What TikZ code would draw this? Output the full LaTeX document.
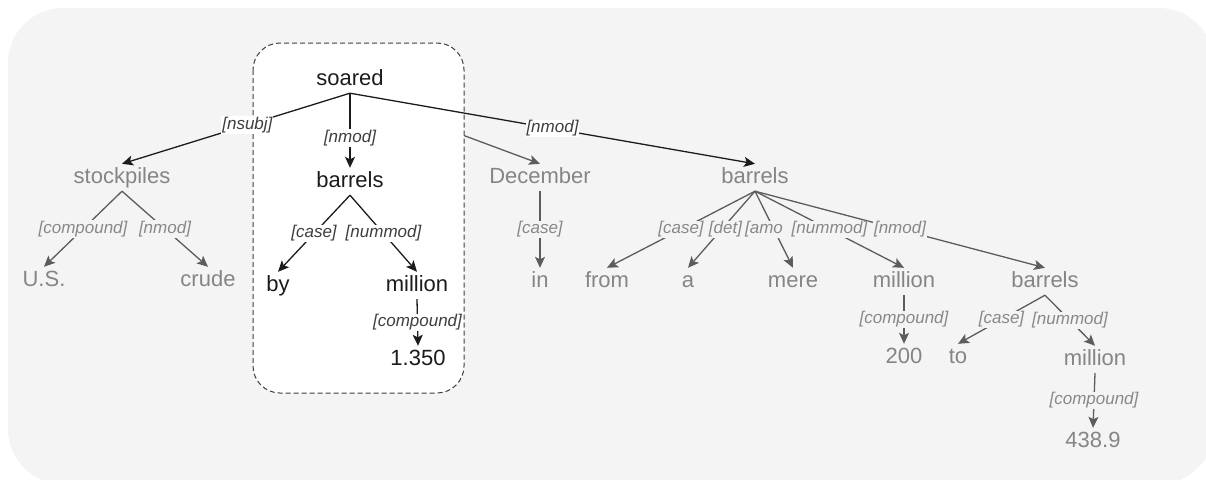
\documentclass[tikz,border=0pt]{standalone}
\usepackage{fontspec}
\setmainfont{Liberation Sans}
\usetikzlibrary{arrows.meta}
\definecolor{panelbg}{HTML}{F4F4F4}
\definecolor{wordgray}{HTML}{858585}
\definecolor{edgegray}{HTML}{5C5C5C}
\definecolor{labgray}{HTML}{888888}
\definecolor{ink}{HTML}{1C1C1C}
\pgfdeclarelayer{panel}
\pgfdeclarelayer{frame}
\pgfsetlayers{panel,frame,main}

\begin{document}
\begin{tikzpicture}[x=1pt, y=-1pt,
    word/.style={anchor=base, inner sep=3pt, text height=16pt, text depth=5pt, font=\fontsize{22}{26}\selectfont},
    headword/.style={word, text=ink},
    depword/.style={word, text=wordgray},
    arc/.style={-{Stealth[length=11pt, width=10pt, inset=2.5pt]}, line width=1.3pt, draw=ink},
    grayarc/.style={arc, draw=edgegray},
    rel/.style={midway, fill=white, inner sep=1pt, text=ink!85, font=\fontsize{17}{19}\selectfont\itshape},
    grayrel/.style={rel, fill=panelbg, text=labgray}]

    \useasboundingbox (0,0) rectangle (1206,479);
    \clip (0,0) rectangle (1206,479);

    \node (soared) [headword] at (350, 85) {soared};
    \node (stockpiles) [depword] at (122, 183) {stockpiles};
    \node (barrelsby) [headword] at (350, 187) {barrels};
    \node (december) [depword] at (540, 183) {December};
    \node (barrels) [depword] at (755, 183) {barrels};
    \node (us) [depword] at (44, 286) {U.S.};
    \node (crude) [depword] at (208, 286) {crude};
    \node (by) [headword] at (278, 291) {by};
    \node (millionby) [headword] at (417, 291) {million};
    \node (onethree) [headword] at (418, 365) {1.350};
    \node (in) [depword] at (540, 287) {in};
    \node (from) [depword] at (607, 287) {from};
    \node (a) [depword] at (688, 287) {a};
    \node (mere) [depword] at (793, 287) {mere};
    \node (million) [depword] at (904, 287) {million};
    \node (barrelsto) [depword] at (1045, 287) {barrels};
    \node (twohundred) [depword] at (904, 363) {200};
    \node (to) [depword] at (958, 363) {to};
    \node (millionto) [depword] at (1095, 365) {million};
    \node (fourthree) [depword] at (1093, 447) {438.9};

    \begin{pgfonlayer}{panel}
        \fill[panelbg, rounded corners=55pt] (8, 8) rectangle (1214, 484);
        \draw[grayarc] (soared.south) to (december.north);
    \end{pgfonlayer}
    \begin{pgfonlayer}{frame}
        \draw[ink!85, fill=white, line width=1pt, dash pattern=on 5pt off 3pt, rounded corners=27pt] (253, 43) rectangle (464, 393);
    \end{pgfonlayer}

    \draw[arc] (soared.south) to node[rel, pos=0.45] {[nsubj]} (stockpiles.north);
    \draw[arc] (soared.south) to node[rel, pos=0.6] {[nmod]} (barrelsby.north);
    \draw[arc] (soared.south) to node[rel] {[nmod]} (barrels.north);

    \draw[grayarc] (stockpiles.south) to node[grayrel] {[compound]} (us.north);
    \draw[grayarc] (stockpiles.south) to node[grayrel] {[nmod]} (crude.north);

    \draw[arc] (barrelsby.south) to node[rel] {[case]} (by.north);
    \draw[arc] (barrelsby.south) to node[rel] {[nummod]} (millionby.north);
    \draw[arc] (millionby.south) to node[rel] {[compound]} (onethree.north);

    \draw[grayarc] (december.south) to node[grayrel] {[case]} (in.north);

    \draw[grayarc] (barrels.south) to node[grayrel] {[case]} (from.north);
    \draw[grayarc] (barrels.south) to node[grayrel, xshift=4pt] {[det]} (a.north);
    \draw[grayarc] (barrels.south) to node[grayrel, xshift=-10pt] {[amo} (mere.north);
    \draw[grayarc] (barrels.south) to node[grayrel] {[nmod]} (barrelsto.north);
    \draw[grayarc] (barrels.south) to node[grayrel] {[nummod]} (million.north);

    \draw[grayarc] (million.south) to node[grayrel] {[compound]} (twohundred.north);
    \draw[grayarc] (barrelsto.south) to node[grayrel] {[case]} (to.north);
    \draw[grayarc] (barrelsto.south) to node[grayrel] {[nummod]} (millionto.north);
    \draw[grayarc] (millionto.south) to node[grayrel] {[compound]} (fourthree.north);
\end{tikzpicture}
\end{document}
